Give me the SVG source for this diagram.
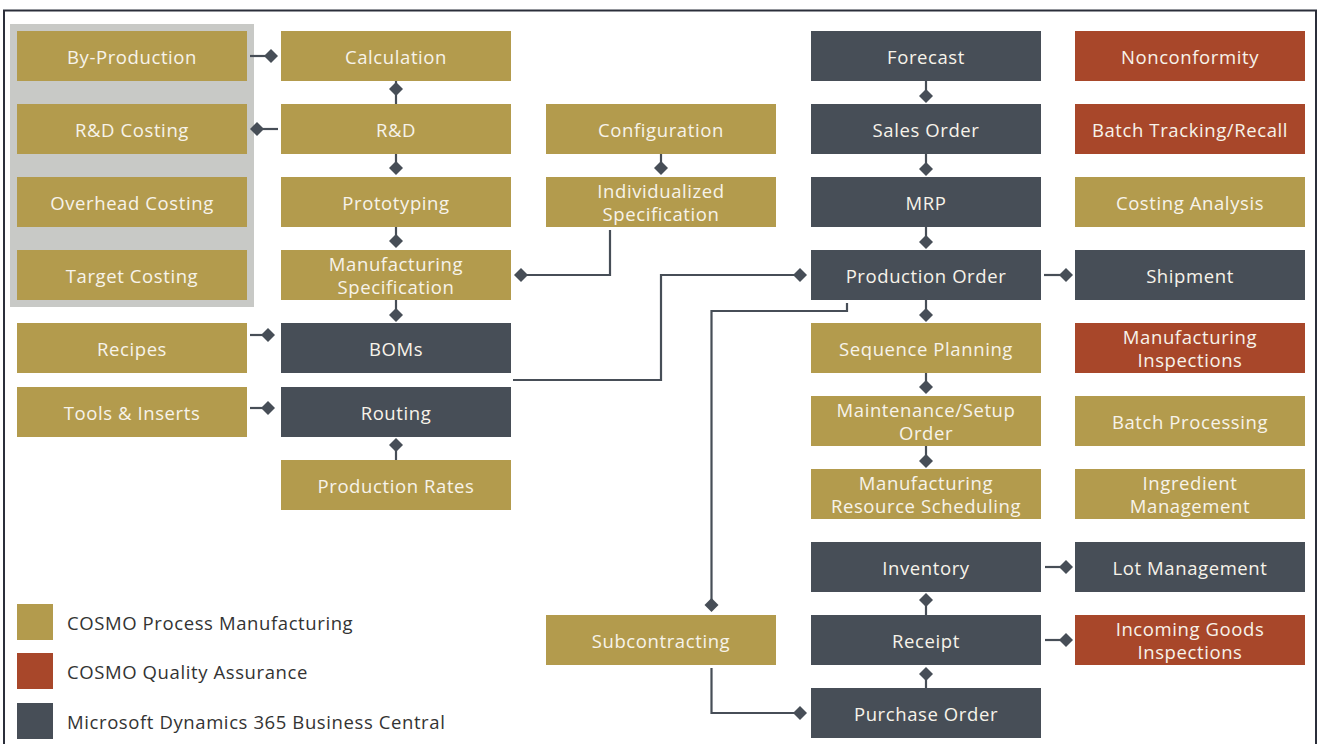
<svg xmlns="http://www.w3.org/2000/svg" width="1318" height="744" viewBox="0 0 1318 744">
<defs>
<style>
.g{fill:#b39b4d}.r{fill:#a8472a}.d{fill:#474e57}
.t{font-family:"Open Sans","Liberation Sans",sans-serif;font-size:18.5px;fill:#f7f3ea;text-anchor:middle;dominant-baseline:central;letter-spacing:0.6px}
.l{font-family:"Open Sans","Liberation Sans",sans-serif;font-size:18.5px;fill:#333;dominant-baseline:central;letter-spacing:0.6px}
.c{fill:none;stroke:#474e57;stroke-width:2.2}
.dm{fill:#474e57}
</style>
<path id="dia" d="M0,-7 L7,0 L0,7 L-7,0 Z"/>
</defs>
<rect x="0" y="0" width="1318" height="744" fill="#fff"/>
<rect x="4" y="10.5" width="1312" height="800" fill="none" stroke="#2b2e3a" stroke-width="2"/>
<rect x="10" y="24" width="244" height="283" fill="#c8c9c6"/>

<g id="connectors">
<path class="c" d="M250,56H270"/><use href="#dia" class="dm" x="271" y="56"/>
<path class="c" d="M278,129H258"/><use href="#dia" class="dm" x="257" y="129"/>
<path class="c" d="M396,81V104"/><use href="#dia" class="dm" x="396" y="89"/>
<path class="c" d="M396,154V168"/><use href="#dia" class="dm" x="396" y="168"/>
<path class="c" d="M396,227V241"/><use href="#dia" class="dm" x="396" y="241"/>
<path class="c" d="M396,300V315"/><use href="#dia" class="dm" x="396" y="315"/>
<path class="c" d="M250,335H268"/><use href="#dia" class="dm" x="268" y="335"/>
<path class="c" d="M250,408H268"/><use href="#dia" class="dm" x="268" y="408"/>
<path class="c" d="M396,445V460"/><use href="#dia" class="dm" x="396" y="445"/>
<path class="c" d="M661,154V168"/><use href="#dia" class="dm" x="661" y="168"/>
<path class="c" d="M610,230V275H522"/><use href="#dia" class="dm" x="521" y="275"/>
<path class="c" d="M513,380H661V275H800"/><use href="#dia" class="dm" x="800" y="275"/>
<path class="c" d="M926,81V96"/><use href="#dia" class="dm" x="926" y="96"/>
<path class="c" d="M926,154V169"/><use href="#dia" class="dm" x="926" y="169"/>
<path class="c" d="M926,227V242"/><use href="#dia" class="dm" x="926" y="242"/>
<path class="c" d="M926,300V315"/><use href="#dia" class="dm" x="926" y="315"/>
<path class="c" d="M926,373V387"/><use href="#dia" class="dm" x="926" y="387"/>
<path class="c" d="M926,446V461"/><use href="#dia" class="dm" x="926" y="461"/>
<path class="c" d="M1044,275H1066"/><use href="#dia" class="dm" x="1066" y="275"/>
<path class="c" d="M847,303V311H711.5V605"/><use href="#dia" class="dm" x="711.5" y="605"/>
<path class="c" d="M711.5,668V713H800"/><use href="#dia" class="dm" x="800" y="713"/>
<path class="c" d="M926,615V600"/><use href="#dia" class="dm" x="926" y="600"/>
<path class="c" d="M926,688V674"/><use href="#dia" class="dm" x="926" y="674"/>
<path class="c" d="M1045,567H1066"/><use href="#dia" class="dm" x="1066" y="567"/>
<path class="c" d="M1045,640H1066"/><use href="#dia" class="dm" x="1066" y="640"/>
</g>

<g id="by-production"><rect class="g" x="17" y="31" width="230" height="50"/><text class="t" x="132" y="56">By-Production</text></g>
<g id="rd-costing"><rect class="g" x="17" y="104" width="230" height="50"/><text class="t" x="132" y="129">R&amp;D Costing</text></g>
<g id="overhead-costing"><rect class="g" x="17" y="177" width="230" height="50"/><text class="t" x="132" y="202">Overhead Costing</text></g>
<g id="target-costing"><rect class="g" x="17" y="250" width="230" height="50"/><text class="t" x="132" y="275">Target Costing</text></g>
<g id="recipes"><rect class="g" x="17" y="323" width="230" height="50"/><text class="t" x="132" y="348">Recipes</text></g>
<g id="tools-inserts"><rect class="g" x="17" y="387" width="230" height="50"/><text class="t" x="132" y="412">Tools &amp; Inserts</text></g>

<g id="calculation"><rect class="g" x="281" y="31" width="230" height="50"/><text class="t" x="396" y="56">Calculation</text></g>
<g id="rd"><rect class="g" x="281" y="104" width="230" height="50"/><text class="t" x="396" y="129">R&amp;D</text></g>
<g id="prototyping"><rect class="g" x="281" y="177" width="230" height="50"/><text class="t" x="396" y="202">Prototyping</text></g>
<g id="manufacturing-specification"><rect class="g" x="281" y="250" width="230" height="50"/><text class="t" x="396" y="263.5">Manufacturing</text><text class="t" x="396" y="286.5">Specification</text></g>
<g id="boms"><rect class="d" x="281" y="323" width="230" height="50"/><text class="t" x="396" y="348">BOMs</text></g>
<g id="routing"><rect class="d" x="281" y="387" width="230" height="50"/><text class="t" x="396" y="412">Routing</text></g>
<g id="production-rates"><rect class="g" x="281" y="460" width="230" height="50"/><text class="t" x="396" y="485">Production Rates</text></g>

<g id="configuration"><rect class="g" x="546" y="104" width="230" height="50"/><text class="t" x="661" y="129">Configuration</text></g>
<g id="individualized-specification"><rect class="g" x="546" y="177" width="230" height="50"/><text class="t" x="661" y="190.5">Individualized</text><text class="t" x="661" y="213.5">Specification</text></g>
<g id="subcontracting"><rect class="g" x="546" y="615" width="230" height="50"/><text class="t" x="661" y="640">Subcontracting</text></g>

<g id="forecast"><rect class="d" x="811" y="31" width="230" height="50"/><text class="t" x="926" y="56">Forecast</text></g>
<g id="sales-order"><rect class="d" x="811" y="104" width="230" height="50"/><text class="t" x="926" y="129">Sales Order</text></g>
<g id="mrp"><rect class="d" x="811" y="177" width="230" height="50"/><text class="t" x="926" y="202">MRP</text></g>
<g id="production-order"><rect class="d" x="811" y="250" width="230" height="50"/><text class="t" x="926" y="275">Production Order</text></g>
<g id="sequence-planning"><rect class="g" x="811" y="323" width="230" height="50"/><text class="t" x="926" y="348">Sequence Planning</text></g>
<g id="maintenance-setup-order"><rect class="g" x="811" y="396" width="230" height="50"/><text class="t" x="926" y="409.5">Maintenance/Setup</text><text class="t" x="926" y="432.5">Order</text></g>
<g id="manufacturing-resource-scheduling"><rect class="g" x="811" y="469" width="230" height="50"/><text class="t" x="926" y="482.5">Manufacturing</text><text class="t" x="926" y="505.5">Resource Scheduling</text></g>
<g id="inventory"><rect class="d" x="811" y="542" width="230" height="50"/><text class="t" x="926" y="567">Inventory</text></g>
<g id="receipt"><rect class="d" x="811" y="615" width="230" height="50"/><text class="t" x="926" y="640">Receipt</text></g>
<g id="purchase-order"><rect class="d" x="811" y="688" width="230" height="50"/><text class="t" x="926" y="713">Purchase Order</text></g>

<g id="nonconformity"><rect class="r" x="1075" y="31" width="230" height="50"/><text class="t" x="1190" y="56">Nonconformity</text></g>
<g id="batch-tracking-recall"><rect class="r" x="1075" y="104" width="230" height="50"/><text class="t" x="1190" y="129">Batch Tracking/Recall</text></g>
<g id="costing-analysis"><rect class="g" x="1075" y="177" width="230" height="50"/><text class="t" x="1190" y="202">Costing Analysis</text></g>
<g id="shipment"><rect class="d" x="1075" y="250" width="230" height="50"/><text class="t" x="1190" y="275">Shipment</text></g>
<g id="manufacturing-inspections"><rect class="r" x="1075" y="323" width="230" height="50"/><text class="t" x="1190" y="336.5">Manufacturing</text><text class="t" x="1190" y="359.5">Inspections</text></g>
<g id="batch-processing"><rect class="g" x="1075" y="396" width="230" height="50"/><text class="t" x="1190" y="421">Batch Processing</text></g>
<g id="ingredient-management"><rect class="g" x="1075" y="469" width="230" height="50"/><text class="t" x="1190" y="482.5">Ingredient</text><text class="t" x="1190" y="505.5">Management</text></g>
<g id="lot-management"><rect class="d" x="1075" y="542" width="230" height="50"/><text class="t" x="1190" y="567">Lot Management</text></g>
<g id="incoming-goods-inspections"><rect class="r" x="1075" y="615" width="230" height="50"/><text class="t" x="1190" y="628.5">Incoming Goods</text><text class="t" x="1190" y="651.5">Inspections</text></g>

<g id="legend">
<rect class="g" x="17" y="604" width="36" height="36"/><text class="l" x="67" y="622">COSMO Process Manufacturing</text>
<rect class="r" x="17" y="653" width="36" height="36"/><text class="l" x="67" y="671">COSMO Quality Assurance</text>
<rect class="d" x="17" y="703" width="36" height="36"/><text class="l" x="67" y="721">Microsoft Dynamics 365 Business Central</text>
</g>
</svg>
